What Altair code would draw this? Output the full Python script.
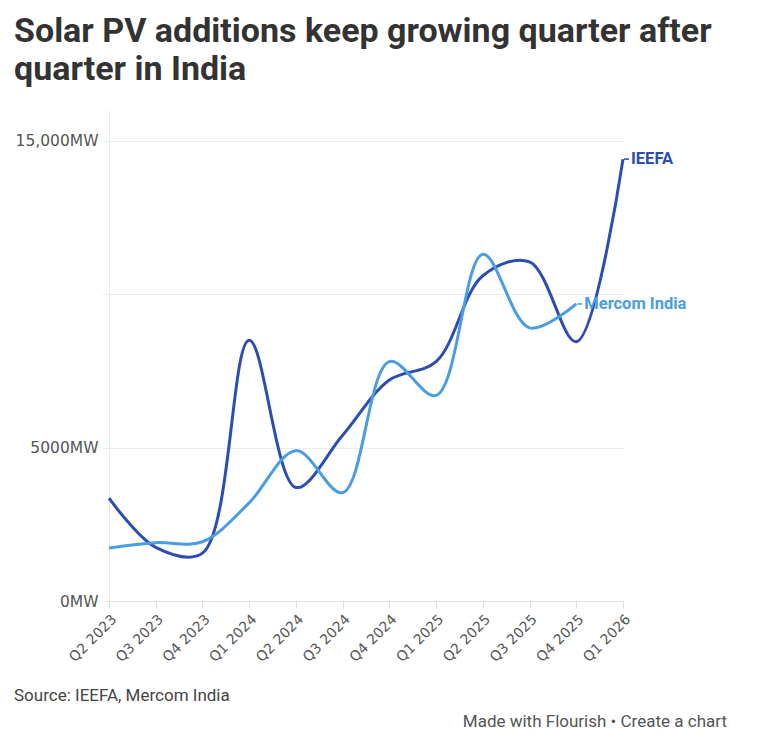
import altair as alt
import pandas as pd

quarters = ["Q2 2023", "Q3 2023", "Q4 2023", "Q1 2024", "Q2 2024", "Q3 2024",
            "Q4 2024", "Q1 2025", "Q2 2025", "Q3 2025", "Q4 2025", "Q1 2026"]
ieefa = [3350, 1750, 1560, 8500, 3700, 5400, 7200, 7800, 10600, 11050, 8450, 14400]
mercom = [1730, 1900, 1930, 3200, 4900, 3530, 7800, 6700, 11300, 8900, 9680, None]
series = ["IEEFA", "Mercom India"]
colors = ["#2b4db4", "#4a9de2"]

title_lines = ["Solar PV additions keep growing quarter after", "quarter in India"]
source_text = "Source: IEEFA, Mercom India"
footer_text = "Made with Flourish \u2022 Create a chart"

rows = []
for name, vals in zip(series, [ieefa, mercom]):
    for q, v in zip(quarters, vals):
        if v is not None:
            rows.append({"quarter": q, "value": v, "series": name})
df = pd.DataFrame(rows)

ends = []
for name, vals in zip(series, [ieefa, mercom]):
    idx = max(i for i, v in enumerate(vals) if v is not None)
    ends.append({"quarter": quarters[idx], "value": vals[idx], "series": name})
ends_df = pd.DataFrame(ends)

LABEL_FONT = "DejaVu Sans"

x_enc = alt.X("quarter:O", sort=quarters,
              scale=alt.Scale(type="point", padding=0),
              axis=alt.Axis(title=None, labelAngle=-45, labelFont=LABEL_FONT,
                            labelFontSize=14, labelColor="#555555",
                            domainColor="#e4e4e4", tickColor="#dddddd",
                            tickSize=7, labelPadding=4, grid=False))
y_enc = alt.Y("value:Q", scale=alt.Scale(domain=[0, 16000], nice=False),
              axis=alt.Axis(title=None, values=[0, 5000, 10000, 15000],
                            labelExpr="datum.value == 10000 ? '' : (datum.value > 9999 ? format(datum.value, ',') : format(datum.value, 'd')) + 'MW'",
                            labelFont=LABEL_FONT, labelFontSize=15.5,
                            labelColor="#555555", gridColor="#ececec",
                            domainColor="#e8e8e8", tickColor="#ececec",
                            tickSize=7, labelPadding=4))
color_enc = alt.Color("series:N", scale=alt.Scale(domain=series, range=colors),
                      legend=None)

lines = alt.Chart(df).mark_line(interpolate="catmull-rom", strokeWidth=3).encode(
    x=x_enc, y=y_enc, color=color_enc)

connectors = alt.Chart(ends_df).mark_rule(strokeWidth=1.5, xOffset=1, x2Offset=6).encode(
    x=alt.X("quarter:O", sort=quarters), x2="quarter:O", y="value:Q", color=color_enc)

labels = alt.Chart(ends_df).mark_text(align="left", baseline="middle", dx=8,
                                      font="Roboto", fontWeight="bold",
                                      fontSize=16.5).encode(
    x=alt.X("quarter:O", sort=quarters), y="value:Q", text="series:N", color=color_enc)

source = alt.Chart(pd.DataFrame({"t": [source_text]})).mark_text(
    align="left", baseline="alphabetic", font="Roboto", fontSize=17,
    color="#444444").encode(x=alt.value(-95), y=alt.value(591), text="t:N")

footer = alt.Chart(pd.DataFrame({"t": [footer_text]})).mark_text(
    align="right", baseline="alphabetic", font="Roboto", fontSize=17,
    color="#555555").encode(x=alt.value(618), y=alt.value(617), text="t:N")

chart = alt.layer(lines, connectors, labels, source, footer).properties(
    width=514, height=491,
    title=alt.TitleParams(title_lines, anchor="start", frame="group", dx=-95,
                          font="Roboto", fontSize=34, fontWeight="bold",
                          color="#333333", lineHeight=38, offset=23),
    autosize=alt.AutoSizeParams(type="none"),
    padding={"left": 101, "top": 102, "right": 129, "bottom": 138},
    background="white",
).configure_view(stroke=None)

chart.save("out.html", embed_options={"renderer": "svg", "actions": False})
